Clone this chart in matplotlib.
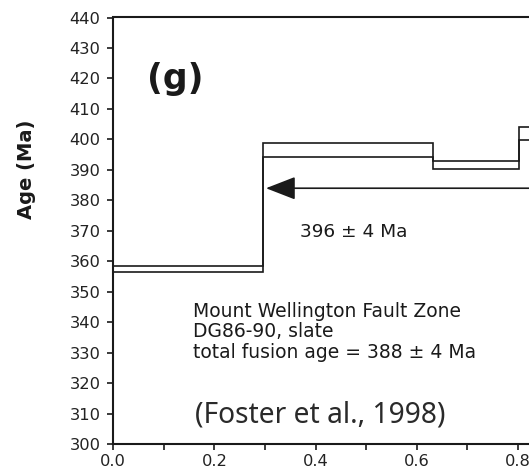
import matplotlib
matplotlib.use("Agg")
import matplotlib.pyplot as plt
from matplotlib.ticker import MultipleLocator, FormatStrFormatter

# Cumulative 39Ar released (fraction) at each step boundary
step_edges = [0.0, 0.2955, 0.632, 0.802, 0.87]
# Apparent age envelope for each step (Ma)
age_low = [356.6, 394.3, 390.2, 399.8]
age_high = [358.6, 398.7, 392.9, 404.0]

plateau_age = 396
plateau_err = 4
plateau_arrow_y = 384.0
plateau_start = 0.302

sample_lines = [
    "Mount Wellington Fault Zone",
    "DG86-90, slate",
    "total fusion age = 388 \u00b1 4 Ma",
]
panel_label = "(g)"
source_label = "(Foster et al., 1998)"

y_ticks = list(range(300, 441, 10))

fig = plt.figure(figsize=(5.29, 4.70), dpi=100)
ax = fig.add_axes([113.3 / 529, (470 - 444.3) / 470, 505.5 / 529, 426.8 / 470])
ax.set_xlim(0, 1.0)
ax.set_ylim(300, 440)

ink = "#1a1a1a"

# Upper and lower edges of the age spectrum, each drawn as a stair outline
ax.stairs(age_high, step_edges, baseline=None, color=ink, linewidth=1.2, zorder=3)
ax.stairs(age_low, step_edges, baseline=None, color=ink, linewidth=1.2, zorder=3)

ax.annotate("", xy=(plateau_start, plateau_arrow_y), xytext=(1.0, plateau_arrow_y),
            arrowprops=dict(arrowstyle="-|>,head_length=1.285,head_width=0.5",
                            mutation_scale=14.4, color=ink, lw=1.2,
                            shrinkA=0, shrinkB=0))

ax.text(0.369, 368.1, f"{plateau_age} \u00b1 {plateau_err} Ma", fontsize=13.3,
        color=ink, ha="left", va="baseline", family="DejaVu Sans")

for i, line in enumerate(sample_lines):
    ax.text(0.158, 341.9 - 6.8 * i, line, fontsize=13.5, color=ink,
            ha="left", va="baseline", family="DejaVu Sans")

ax.text(0.0667, 416.6, panel_label, fontsize=25, fontweight="bold", color=ink,
        ha="left", va="baseline", family="DejaVu Sans")

ax.text(0.162, 307.1, source_label, fontsize=20.3, color="#2a2a2a",
        ha="left", va="baseline", family="Noto Sans")

fig.text(27 / 529, 1 - 169 / 470, "Age (Ma)", rotation=90, fontsize=14,
         fontweight="bold", color=ink, ha="center", va="center",
         family="DejaVu Sans")

ax.set_yticks(y_ticks)
ax.xaxis.set_major_locator(MultipleLocator(0.2))
ax.xaxis.set_minor_locator(MultipleLocator(0.1))
ax.xaxis.set_major_formatter(FormatStrFormatter("%.1f"))

ax.tick_params(axis="both", which="both", direction="out", length=4.5,
               width=1.2, color=ink, labelcolor="#222222", labelsize=11.7)
ax.tick_params(axis="y", pad=4.8)
ax.tick_params(axis="x", pad=2.4)

for side in ("left", "top", "bottom"):
    ax.spines[side].set_linewidth(1.5)
    ax.spines[side].set_color(ink)
ax.spines["right"].set_visible(False)

fig.savefig("out.png", dpi=100)
